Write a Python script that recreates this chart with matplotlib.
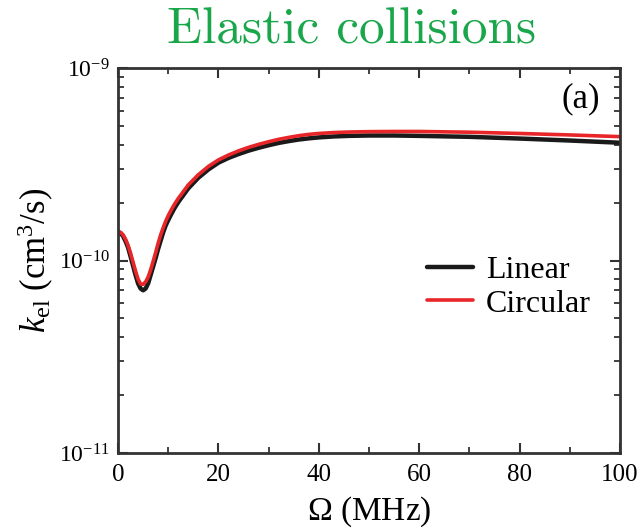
import matplotlib
matplotlib.use("Agg")
import matplotlib.pyplot as plt
from matplotlib.ticker import LogLocator, MultipleLocator, NullFormatter, FixedLocator

plt.rcParams['mathtext.fontset'] = 'custom'
plt.rcParams['mathtext.rm'] = 'Liberation Serif'
plt.rcParams['mathtext.it'] = 'Liberation Serif:italic'
plt.rcParams['font.family'] = 'Liberation Serif'

# Rabi frequency (MHz) and elastic rate coefficients (cm^3/s)
omega_circ = [0, 0.5, 1, 1.5, 2, 2.5, 3, 3.5, 4, 4.5, 5, 5.5, 6, 6.5, 7, 7.5, 8, 8.5,
              9, 9.5, 10, 10.5, 11.25, 12, 14, 16, 18, 20, 22, 24, 26, 28, 30, 32,
              34, 36, 38, 40, 43, 46, 50, 55, 60, 70, 80, 90, 100]
k_circular = [1.41e-10, 1.40e-10, 1.36e-10, 1.29e-10, 1.20e-10, 1.09e-10, 0.98e-10,
              0.88e-10, 0.80e-10, 0.755e-10, 0.752e-10, 0.775e-10, 0.82e-10,
              0.895e-10, 0.99e-10, 1.10e-10, 1.23e-10, 1.36e-10, 1.48e-10, 1.60e-10,
              1.71e-10, 1.81e-10, 1.96e-10, 2.10e-10, 2.47e-10, 2.79e-10, 3.08e-10,
              3.33e-10, 3.53e-10, 3.71e-10, 3.87e-10, 4.01e-10, 4.14e-10, 4.26e-10,
              4.36e-10, 4.45e-10, 4.52e-10, 4.57e-10, 4.62e-10, 4.65e-10, 4.67e-10,
              4.68e-10, 4.68e-10, 4.64e-10, 4.57e-10, 4.49e-10, 4.40e-10]

omega_lin = omega_circ
k_linear = [1.40e-10, 1.39e-10, 1.34e-10, 1.26e-10, 1.17e-10, 1.05e-10, 0.94e-10,
            0.84e-10, 0.76e-10, 0.715e-10, 0.70e-10, 0.715e-10, 0.76e-10, 0.84e-10,
            0.93e-10, 1.03e-10, 1.15e-10, 1.27e-10, 1.40e-10, 1.52e-10, 1.62e-10,
            1.72e-10, 1.87e-10, 2.01e-10, 2.37e-10, 2.69e-10, 2.97e-10, 3.22e-10,
            3.41e-10, 3.57e-10, 3.72e-10, 3.85e-10, 3.97e-10, 4.08e-10, 4.17e-10,
            4.25e-10, 4.31e-10, 4.36e-10, 4.41e-10, 4.44e-10, 4.46e-10, 4.46e-10,
            4.44e-10, 4.39e-10, 4.30e-10, 4.20e-10, 4.09e-10]

x_ticks = [0, 20, 40, 60, 80, 100]
y_ticks = [1e-11, 1e-10, 1e-9]
y_tick_labels = [r'$\mathregular{10^{-11}}$', r'$\mathregular{10^{-10}}$', r'$\mathregular{10^{-9}}$']

fig = plt.figure(figsize=(6.43, 5.28), dpi=100)
ax = fig.add_axes([118 / 643, 1 - 453 / 528, (620 - 118) / 643, (453 - 68) / 528])

ax.plot(omega_lin, k_linear, color='#1a1a1a', lw=3.2, label='Linear',
        solid_capstyle='round', solid_joinstyle='round')
ax.plot(omega_circ, k_circular, color='#e8262a', lw=2.6, label='Circular',
        solid_capstyle='round', solid_joinstyle='round')

ax.set_yscale('log')
ax.set_xlim(0, 100)
ax.set_ylim(1e-11, 1e-9)

ax.xaxis.set_major_locator(FixedLocator(x_ticks))
ax.xaxis.set_minor_locator(MultipleLocator(10))
ax.set_xticklabels([str(v) for v in x_ticks])
ax.yaxis.set_major_locator(FixedLocator(y_ticks))
ax.set_yticklabels(y_tick_labels)
ax.yaxis.set_minor_locator(LogLocator(base=10, subs=range(2, 10)))
ax.yaxis.set_minor_formatter(NullFormatter())

ax.tick_params(which='both', direction='in', top=True, right=True, color='#333333')
ax.tick_params(which='major', length=7, width=1.5, pad=6)
ax.tick_params(which='minor', length=4, width=1.3)
ax.tick_params(axis='x', which='major', labelsize=18, pad=8)
ax.tick_params(axis='y', which='major', labelsize=17, pad=6)
for s in ax.spines.values():
    s.set_linewidth(2.0)
    s.set_color('#333333')

ax.set_xlabel(r'$\mathregular{\Omega}$ (MHz)', fontsize=24, labelpad=6)
ax.set_ylabel(r'$k_{\mathregular{el}}$ (cm$^{\mathregular{3}}$/s)', fontsize=25, labelpad=2)

ax.text(0.96, 0.92, '(a)', transform=ax.transAxes, ha='right', va='center', fontsize=25)

leg = ax.legend(loc='upper left', bbox_to_anchor=(0.59, 0.545), frameon=False,
                fontsize=23, handlelength=1.45, handletextpad=0.4, labelspacing=0.12,
                borderaxespad=0)

fig.text(352 / 643, 1 - 31 / 528, 'Elastic collisions', color='#1aa64a', fontsize=37,
         family='cmr10', ha='center', va='center')

fig.savefig('out.png', dpi=100)
